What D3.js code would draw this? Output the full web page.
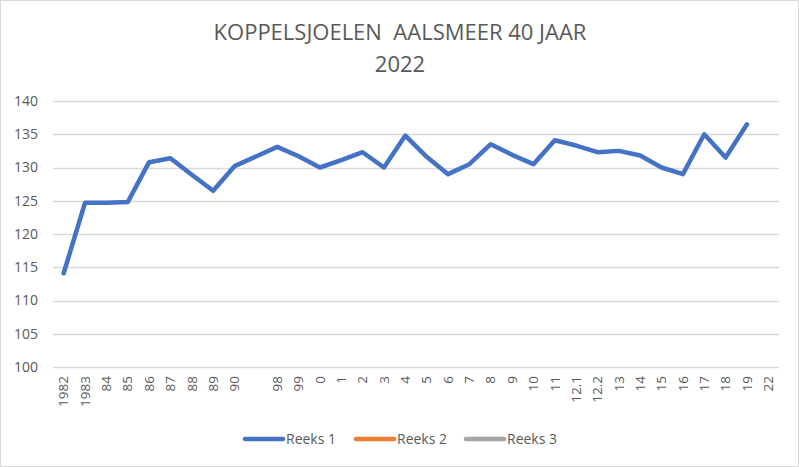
<!DOCTYPE html>
<html><head><meta charset="utf-8">
<script src="https://cdn.jsdelivr.net/npm/d3@7"></script>
<style>body{margin:0;background:#fff}svg{display:block}text{font-family:"Open Sans","Noto Sans",sans-serif}</style>
</head><body>
<script>
const titleLines = ["KOPPELSJOELEN  AALSMEER 40 JAAR", "2022"];
const categories = ["1982","1983","84","85","86","87","88","89","90","","98","99","0","1","2","3","4","5","6","7","8","9","10","11","12.1","12.2","13","14","15","16","17","18","19","22"];
const reeks1 = [114.1,124.7,124.7,124.8,130.8,131.4,128.9,126.5,130.2,null,133.1,131.7,130.0,131.1,132.3,130.0,134.8,131.6,129.0,130.5,133.5,131.9,130.5,134.1,133.3,132.3,132.5,131.8,130.0,129.0,135.0,131.5,136.5,null];
const seriesNames = ["Reeks 1","Reeks 2","Reeks 3"];
const seriesColors = ["#4472C4","#ED7D31","#A5A5A5"];
const yTicks = [100,105,110,115,120,125,130,135,140];

const W = 799, H = 467;
const m = {left:53, right:20, top:101, bottom:100};
const svg = d3.select("body").append("svg").attr("width",W).attr("height",H);
svg.append("rect").attr("x",0.5).attr("y",0.5).attr("width",W-1).attr("height",H-1).attr("fill","#fff").attr("stroke","#D9D9D9");

const x = d3.scaleBand().domain(d3.range(categories.length)).range([m.left, W-m.right]);
const y = d3.scaleLinear().domain([100,140]).range([H-m.bottom, m.top]);

// title
svg.selectAll("text.title").data(titleLines).join("text").attr("class","title")
  .attr("x", 400).attr("y",(d,i)=>40+i*32).attr("text-anchor","middle")
  .style("white-space","pre")
  .attr("font-size",22).attr("fill","#595959").text(d=>d);

// gridlines
svg.append("g").selectAll("line").data(yTicks).join("line")
  .attr("x1",m.left).attr("x2",W-m.right).attr("y1",d=>Math.round(y(d))+0.5).attr("y2",d=>Math.round(y(d))+0.5)
  .attr("stroke","#D9D9D9").attr("stroke-width",1.3);

// y axis labels
const yAxis = d3.axisLeft(y).tickValues(yTicks).tickSize(0).tickPadding(15);
const gy = svg.append("g").attr("transform",`translate(${m.left},0)`).call(yAxis);
gy.select(".domain").remove();
gy.selectAll("text").attr("font-size",14).attr("fill","#595959").style("font-family",'"Open Sans",sans-serif');

// x axis labels
const xAxis = d3.axisBottom(x).tickFormat(i=>categories[i]).tickSize(0).tickPadding(0);
const gx = svg.append("g").attr("transform",`translate(0,${H-m.bottom})`).call(xAxis);
gx.select(".domain").remove();
gx.selectAll("text").attr("font-size",13.5).attr("fill","#595959").style("font-family",'"Open Sans",sans-serif')
  .attr("transform","rotate(-90)").attr("text-anchor","end").attr("dy","0.35em").attr("x",-9).attr("y",0);

// line
const pts = reeks1.map((v,i)=>({i,v})).filter(d=>d.v!==null);
const line = d3.line().x(d=>x(d.i)+x.bandwidth()/2).y(d=>y(d.v));
svg.append("path").datum(pts).attr("d",line).attr("fill","none")
  .attr("stroke",seriesColors[0]).attr("stroke-width",4.5).attr("stroke-linejoin","round").attr("stroke-linecap","round");

// legend
const legX = [245,356,466];
const lg = svg.append("g").selectAll("g").data(seriesNames).join("g").attr("transform",(d,i)=>`translate(${legX[i]},439)`);
lg.append("line").attr("x1",0).attr("x2",38).attr("stroke",(d,i)=>seriesColors[i]).attr("stroke-width",4.5).attr("stroke-linecap","round");
lg.append("text").attr("x",41).attr("dy","0.35em").attr("font-size",14).attr("fill","#595959").text(d=>d);
</script>
</body></html>
